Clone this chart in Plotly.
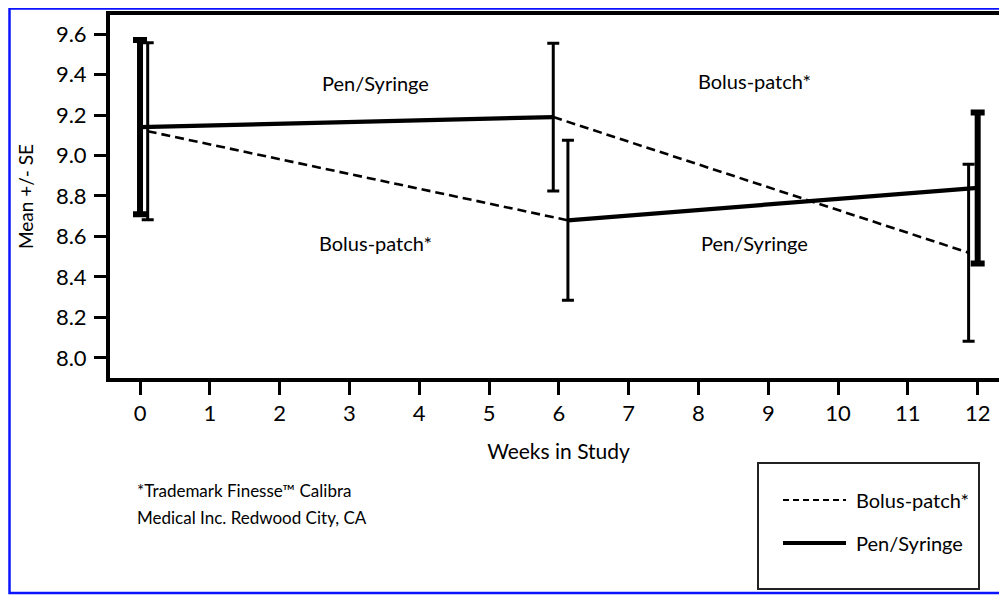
import plotly.graph_objects as go

# ---------------- data ----------------
weeks_ticks = list(range(0, 13))
y_ticks = [8.0, 8.2, 8.4, 8.6, 8.8, 9.0, 9.2, 9.4, 9.6]

# Group A: Pen/Syringe first (weeks 0-6), then Bolus-patch (weeks 6-12)
group_a_weeks = [0, 5.92, 11.87]
group_a_mean = [9.14, 9.19, 8.52]
group_a_se = [0.43, 0.365, 0.437]

# Group B: Bolus-patch first (weeks 0-6), then Pen/Syringe (weeks 6-12)
group_b_weeks = [0.11, 6.13, 12.0]
group_b_mean = [9.12, 8.68, 8.84]
group_b_se = [0.437, 0.395, 0.373]

# which period each segment represents (0->6, 6->12)
group_a_periods = ["Pen/Syringe", "Bolus-patch*"]
group_b_periods = ["Bolus-patch*", "Pen/Syringe"]

period_labels = ["Pen/Syringe", "Bolus-patch*", "Bolus-patch*", "Pen/Syringe"]
period_label_x = [3.37, 8.8, 3.37, 8.8]
period_label_y = [9.36, 9.37, 8.57, 8.57]

footnote_lines = ["*Trademark Finesse\u2122 Calibra", "Medical Inc. Redwood City, CA"]

# ---------------- style ----------------
PAGE_OFF = 8            # default body margin of the html page
W, H = 1007 - PAGE_OFF, 595 - PAGE_OFF
ML, MR, MT, MB = 110 - PAGE_OFF, 0, 15 - PAGE_OFF, 217
FONT = "Lato"
BLACK = "#000000"
line_styles = {
    "Pen/Syringe": dict(color=BLACK, width=4.2, dash="solid"),
    "Bolus-patch*": dict(color=BLACK, width=2.6, dash="9px,5px"),
}
thick_bars = {("A", 0), ("B", 2)}


def px_x(px):
    return (px - PAGE_OFF - ML) / (W - ML - MR)


def px_y(py):
    return (H - MB - (py - PAGE_OFF)) / (H - MT - MB)


fig = go.Figure()

# line segments
for gname, xs, ys, periods in [
    ("A", group_a_weeks, group_a_mean, group_a_periods),
    ("B", group_b_weeks, group_b_mean, group_b_periods),
]:
    for i, period in enumerate(periods):
        fig.add_trace(go.Scatter(
            x=xs[i:i + 2], y=ys[i:i + 2], mode="lines",
            line=line_styles[period], showlegend=False, hoverinfo="skip",
        ))

# error bars
for gname, xs, ys, ses in [
    ("A", group_a_weeks, group_a_mean, group_a_se),
    ("B", group_b_weeks, group_b_mean, group_b_se),
]:
    for i in range(len(xs)):
        thick = (gname, i) in thick_bars
        fig.add_trace(go.Scatter(
            x=[xs[i]], y=[ys[i]], mode="markers",
            marker=dict(size=1, color="rgba(0,0,0,0)"),
            error_y=dict(type="data", array=[ses[i]], visible=True,
                         color=BLACK, thickness=6 if thick else 3,
                         width=7 if thick else 6),
            showlegend=False, hoverinfo="skip",
        ))

# period labels inside the plot
for txt, x, y in zip(period_labels, period_label_x, period_label_y):
    fig.add_annotation(x=x, y=y, text=txt, showarrow=False,
                       font=dict(family=FONT, size=20, color=BLACK))

# footnote
for txt, row in zip(footnote_lines, [490, 518]):
    fig.add_annotation(xref="paper", yref="paper", x=px_x(135), y=px_y(row),
                       text=txt, showarrow=False, align="left",
                       xanchor="left", yanchor="middle",
                       font=dict(family=FONT, size=17, color=BLACK))

# blue outer frame
fig.add_shape(type="rect", xref="paper", yref="paper",
              x0=px_x(9.5), x1=px_x(1020), y0=px_y(593), y1=px_y(8.5),
              line=dict(color="#0a14ff", width=2.5), layer="above")

# legend (drawn box with keys)
fig.add_shape(type="rect", xref="paper", yref="paper",
              x0=px_x(758), x1=px_x(979), y0=px_y(589), y1=px_y(463),
              line=dict(color="#222222", width=2))
legend_entries = ["Bolus-patch*", "Pen/Syringe"]
legend_rows = [500, 543]
for name, row in zip(legend_entries, legend_rows):
    st = line_styles[name]
    dashed = st["dash"] != "solid"
    fig.add_shape(type="line", xref="paper", yref="paper",
                  x0=px_x(783), x1=px_x(846), y0=px_y(row), y1=px_y(row),
                  line=dict(color=BLACK, width=2.2 if dashed else st["width"],
                            dash="6px,4px" if dashed else "solid"))
    fig.add_annotation(xref="paper", yref="paper", x=px_x(854), y=px_y(row),
                       text=name, showarrow=False, xanchor="left",
                       yanchor="middle",
                       font=dict(family=FONT, size=20, color=BLACK))

fig.update_layout(
    width=W, height=H, autosize=False,
    margin=dict(l=ML, r=MR, t=MT, b=MB, pad=0),
    paper_bgcolor="white", plot_bgcolor="white",
    showlegend=False,
    font=dict(family=FONT, color=BLACK),
)
fig.update_xaxes(
    range=[-0.43, 12.42], tickmode="array", tickvals=weeks_ticks,
    ticktext=[str(w) for w in weeks_ticks],
    showgrid=False, zeroline=False,
    showline=True, linecolor=BLACK, linewidth=4, mirror=True,
    ticks="outside", ticklen=13, tickwidth=2.5, tickcolor=BLACK,
    tickfont=dict(family=FONT, size=22, color=BLACK),
    title=dict(text="Weeks in Study", font=dict(family=FONT, size=21, color=BLACK),
               standoff=20),
)
fig.update_yaxes(
    range=[7.901, 9.694], tickmode="array", tickvals=y_ticks,
    ticktext=[f"{v:.1f}" for v in y_ticks],
    showgrid=False, zeroline=False,
    showline=True, linecolor=BLACK, linewidth=4, mirror=False,
    ticks="outside", ticklen=12, tickwidth=3, tickcolor=BLACK,
    ticklabelstandoff=3,
    tickfont=dict(family=FONT, size=22, color=BLACK),
    title=dict(text="Mean +/- SE", font=dict(family=FONT, size=19, color=BLACK),
               standoff=18),
)

fig.write_html("out.html")
